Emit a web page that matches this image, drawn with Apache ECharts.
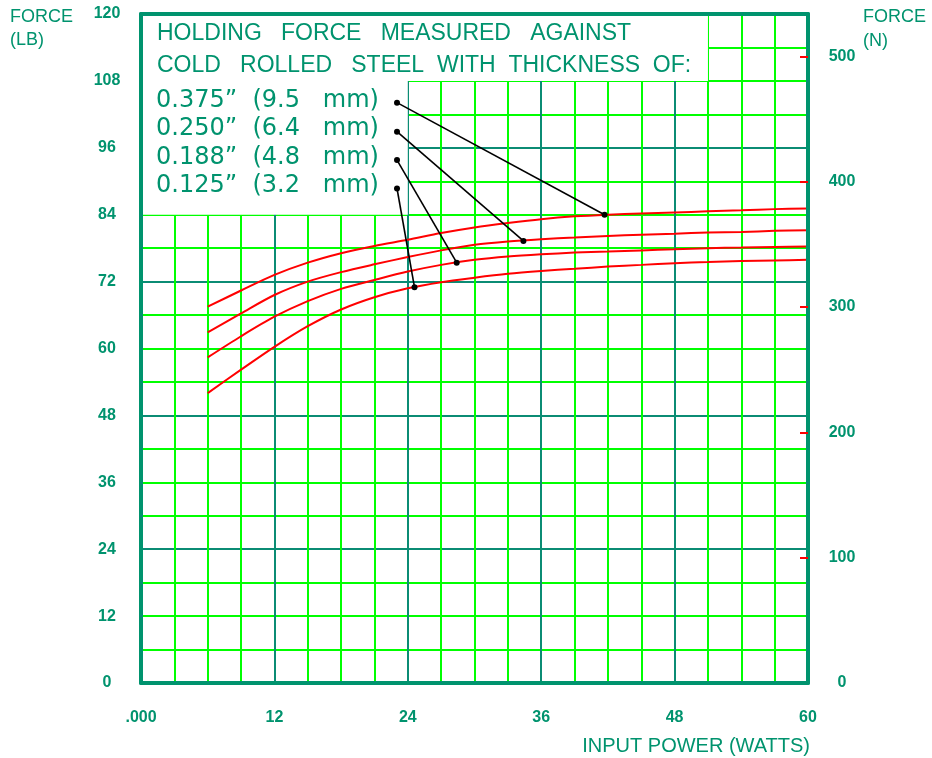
<!DOCTYPE html>
<html>
<head>
<meta charset="utf-8">
<script src="https://cdn.jsdelivr.net/npm/echarts@6/dist/echarts.min.js"></script>
<style>
html, body { margin: 0; padding: 0; background: #fff; }
#chart { width: 932px; height: 758px; }
</style>
</head>
<body>
<div id="chart"></div>
<script>
// input power (watts) where the curves were read
var powerW = [6, 9, 12, 15, 18, 21, 24, 27, 30, 33, 36, 39, 42, 45, 48, 51, 54, 57, 60];

// holding force (lb) per steel thickness
var force375 = [67.5, 70.4, 73.2, 75.4, 77.1, 78.4, 79.5, 80.7, 81.7, 82.5, 83.2, 83.7, 84.0, 84.2, 84.4, 84.6, 84.8, 85.0, 85.1];
var force250 = [62.9, 66.3, 69.6, 72.0, 73.7, 75.1, 76.4, 77.6, 78.6, 79.2, 79.6, 79.9, 80.2, 80.4, 80.6, 80.8, 80.9, 81.1, 81.2];
var force188 = [58.4, 62.2, 65.7, 68.5, 70.7, 72.3, 73.8, 75.0, 75.9, 76.5, 76.9, 77.2, 77.4, 77.6, 77.8, 78.0, 78.1, 78.2, 78.3];
var force125 = [52.0, 56.2, 60.3, 64.0, 67.0, 69.2, 70.8, 71.9, 72.7, 73.4, 73.9, 74.3, 74.7, 75.0, 75.3, 75.5, 75.7, 75.8, 75.9];

var titleLines = ['HOLDING   FORCE   MEASURED   AGAINST', 'COLD   ROLLED   STEEL  WITH  THICKNESS  OF:'];
var legendLines = ['0.375\u201d  (9.5   mm)', '0.250\u201d  (6.4   mm)', '0.188\u201d  (4.8   mm)', '0.125\u201d  (3.2   mm)'];

// leader lines from legend text to curves (watts, lb)
var leaderFrom = [[23.03, 104.1], [23.03, 98.9], [23.03, 93.8], [23.03, 88.7]];
var leaderTo = [[41.7, 84.0], [34.4, 79.3], [28.4, 75.4], [24.6, 71.0]];

// white areas behind the text (watts, lb)
var maskBoxes = [[[0, 108], [51, 120]], [[0, 84], [24, 120]]];

var newtonLabels = [0, 100, 200, 300, 400, 500];
var newtonTicks = [100, 200, 300, 400, 500];
var LB_TO_N = 4.448222;

var teal = '#00936e';
var tealGrid = '#0b8c74';
var green = '#00ff00';

var myChart = echarts.init(document.getElementById('chart'));

function curve(name, vals) {
	return {
		name: name,
		type: 'line',
		xAxisIndex: 0,
		yAxisIndex: 0,
		smooth: 0.3,
		symbol: 'none',
		z: 3,
		lineStyle: { color: '#ff0000', width: 2 },
		data: powerW.map(function (w, i) { return [w, vals[i]]; })
	};
}

var series = [
	curve('0.375', force375),
	curve('0.250', force250),
	curve('0.188', force188),
	curve('0.125', force125)
];

series[0].markArea = {
	silent: true,
	itemStyle: { color: '#ffffff', opacity: 1 },
	data: maskBoxes.map(function (b) {
		return [{ coord: b[0] }, { coord: b[1] }];
	})
};

leaderFrom.forEach(function (p, i) {
	series.push({
		type: 'line',
		xAxisIndex: 0,
		yAxisIndex: 0,
		symbol: 'circle',
		symbolSize: 6,
		z: 4,
		itemStyle: { color: '#000' },
		lineStyle: { color: '#000', width: 1.6 },
		data: [p, leaderTo[i]]
	});
});

var graphics = [];
function addText(x, y, text, size, align, family) {
	graphics.push({
		type: 'text',
		x: x,
		y: y,
		z: 100,
		style: {
			text: text,
			fill: teal,
			font: size + 'px ' + (family || '"Liberation Sans", Arial, sans-serif'),
			textAlign: align || 'left',
			textVerticalAlign: 'middle'
		}
	});
}
addText(10, 17, 'FORCE', 18);
addText(10, 40, '(LB)', 18);
addText(863, 17, 'FORCE', 18);
addText(863, 41, '(N)', 18);
addText(810, 746, 'INPUT POWER (WATTS)', 20, 'right');
addText(157, 34, titleLines[0], 23);
addText(157, 66, titleLines[1], 23);
legendLines.forEach(function (t, i) {
	addText(156, [101, 129, 158, 186][i], t, 24, 'left', '"DejaVu Sans", sans-serif');
});

var labelFont = { color: teal, fontSize: 16, fontWeight: 'bold', fontFamily: '"Liberation Sans", Arial, sans-serif' };
var borderLine = { show: true, onZero: false, lineStyle: { color: teal, width: 4 } };

option = {
	animation: false,
	grid: { left: 141, right: 124, top: 14, bottom: 75 },
	xAxis: [
		{
			type: 'value', position: 'bottom', min: 0, max: 60, interval: 12,
			axisLine: borderLine,
			axisTick: { show: false },
			axisLabel: Object.assign({ margin: 27, formatter: function (v) { return v === 0 ? '.000' : v; } }, labelFont),
			splitLine: { show: true, lineStyle: { color: tealGrid, width: 2 } },
			minorTick: { show: false, splitNumber: 4 },
			minorSplitLine: { show: true, lineStyle: { color: green, width: 2 } }
		},
		{
			type: 'value', position: 'top', min: 0, max: 60, z: 10,
			axisLine: borderLine,
			axisTick: { show: false },
			axisLabel: { show: false },
			splitLine: { show: false }
		}
	],
	yAxis: [
		{
			type: 'value', position: 'left', min: 0, max: 120, interval: 24,
			axisLine: { show: false, onZero: false },
			axisTick: { show: false },
			axisLabel: { show: false },
			splitLine: { show: true, lineStyle: { color: tealGrid, width: 2 } },
			minorTick: { show: false, splitNumber: 4 },
			minorSplitLine: { show: true, lineStyle: { color: green, width: 2 } }
		},
		{
			type: 'value', position: 'left', min: 0, max: 120, interval: 12, z: 10,
			axisLine: borderLine,
			axisTick: { show: false },
			axisLabel: Object.assign({ margin: 34, align: 'center' }, labelFont),
			splitLine: { show: false }
		},
		{
			type: 'value', position: 'right', min: 0, max: 120 * LB_TO_N, z: 10,
			axisLine: borderLine,
			axisTick: { show: true, inside: true, length: 8, customValues: newtonTicks, lineStyle: { color: '#ff0000', width: 2 } },
			axisLabel: Object.assign({ margin: 34, align: 'center', customValues: newtonLabels }, labelFont),
			splitLine: { show: false }
		}
	],
	graphic: graphics,
	series: series
};

myChart.setOption(option);
</script>
</body>
</html>
